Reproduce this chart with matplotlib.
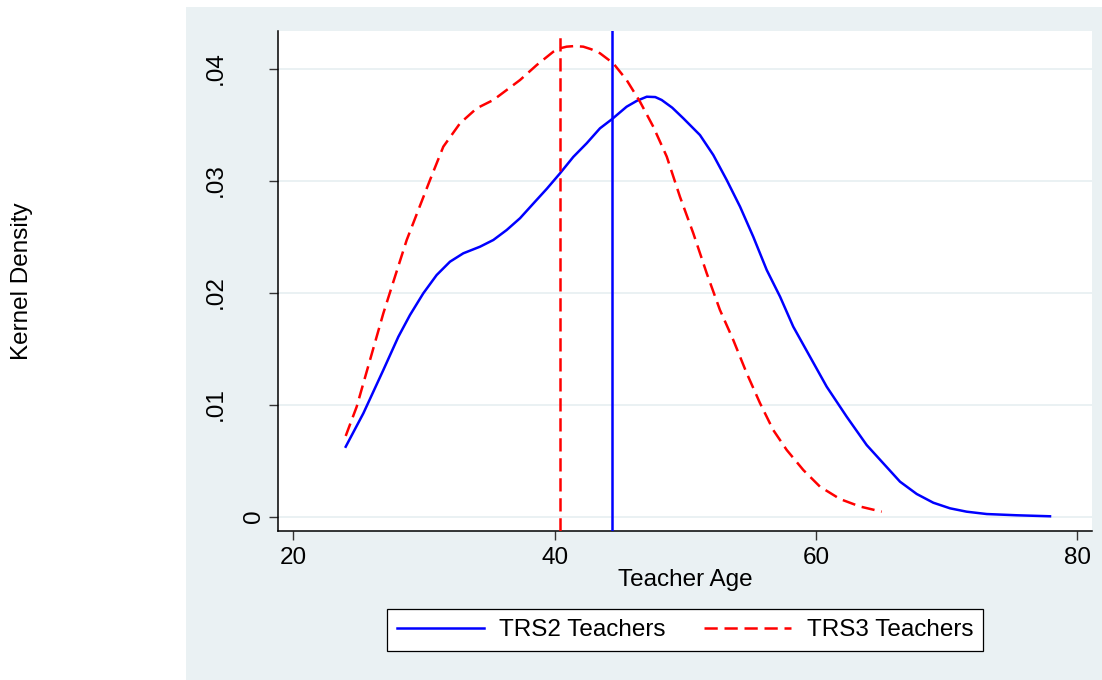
import matplotlib
matplotlib.use("Agg")
import matplotlib.pyplot as plt
from matplotlib.patches import Rectangle
from matplotlib.transforms import ScaledTranslation

# ---- data ----
trs2_age = [24.01, 25.36, 26.89, 28.04, 28.93, 29.95, 30.97, 31.99, 33.01, 34.29,
            35.31, 36.33, 37.35, 38.50, 39.40, 40.41, 41.43, 42.45, 43.47, 44.37,
            45.51, 46.30, 47.05, 47.70, 48.19, 49.00, 49.85, 51.12, 52.14, 53.17,
            54.19, 55.20, 56.23, 57.25, 58.26, 59.54, 60.82, 62.35, 63.88, 65.15,
            66.43, 67.71, 68.98, 70.26, 71.53, 73.07, 75.36, 77.91]
trs2_dens = [0.00623, 0.00921, 0.01308, 0.01605, 0.01799, 0.01993, 0.02156, 0.02275,
             0.02350, 0.02409, 0.02469, 0.02558, 0.02663, 0.02811, 0.02926, 0.03064,
             0.03211, 0.03332, 0.03466, 0.03546, 0.03659, 0.03712, 0.03748, 0.03745,
             0.03719, 0.03650, 0.03555, 0.03406, 0.03228, 0.03004, 0.02766, 0.02498,
             0.02201, 0.01963, 0.01695, 0.01427, 0.01159, 0.00891, 0.00638, 0.00475,
             0.00311, 0.00201, 0.00123, 0.00073, 0.00043, 0.00022, 0.00011, 0.00002]

trs3_age = [24.01, 24.85, 25.87, 26.89, 27.78, 28.68, 29.57, 30.46, 31.48, 32.76,
            34.04, 35.31, 36.33, 37.35, 38.63, 39.90, 40.40, 40.92, 41.50, 42.19,
            42.80, 43.47, 44.49, 45.51, 46.53, 47.55, 48.58, 49.59, 50.61, 51.64,
            52.65, 53.67, 54.70, 55.72, 56.73, 57.76, 59.03, 60.31, 61.84, 63.37,
            65.03]
trs3_dens = [0.00719, 0.00980, 0.01397, 0.01814, 0.02141, 0.02469, 0.02737, 0.03004,
             0.03302, 0.03511, 0.03645, 0.03719, 0.03808, 0.03897, 0.04031, 0.04150,
             0.04180, 0.04195, 0.04200, 0.04195, 0.04172, 0.04136, 0.04046, 0.03897,
             0.03704, 0.03480, 0.03213, 0.02855, 0.02529, 0.02171, 0.01844, 0.01576,
             0.01279, 0.01011, 0.00772, 0.00594, 0.00415, 0.00266, 0.00156, 0.00089,
             0.00043]

trs2_mean = 44.39
trs3_mean = 40.41

x_ticks = [20, 40, 60, 80]
y_ticks = [0, 0.01, 0.02, 0.03, 0.04]
y_ticklabels = ["0", ".01", ".02", ".03", ".04"]
series_labels = ["TRS2 Teachers", "TRS3 Teachers"]

# ---- figure ----
plt.rcParams['font.family'] = ['Liberation Sans', 'DejaVu Sans']
W, H = 1102, 680
FS = 17.5
fig = plt.figure(figsize=(W / 100, H / 100), dpi=100, facecolor='white')

panel_col = '#EAF1F3'
fig.patches.append(Rectangle((186 / W, 0), (W - 186) / W, (H - 7) / H,
                             transform=fig.transFigure, facecolor=panel_col,
                             edgecolor='none', zorder=-10))

ax = fig.add_axes([278 / W, 1 - 531 / H, (1092 - 278) / W, (531 - 31) / H])
ax.set_facecolor('white')

blue = '#0000FF'
red = '#FF0000'
lw = 1.8
dash = (5.3, 2.7)

l1, = ax.plot(trs2_age, trs2_dens, color=blue, lw=lw, label=series_labels[0], zorder=3)
l2, = ax.plot(trs3_age, trs3_dens, color=red, lw=lw, dashes=dash,
              label=series_labels[1], zorder=3)
ax.axvline(trs2_mean, color=blue, lw=lw, zorder=3)
ax.axvline(trs3_mean, color=red, lw=lw, dashes=dash, zorder=3)

x0 = 20 - (293.3 - 278) / 13.067
x1 = 20 + (1092 - 293.3) / 13.067
ax.set_xlim(x0, x1)
ax.set_ylim(-(531 - 516.5) / 11200, (516.5 - 31) / 11200)

ax.set_xticks(x_ticks)
ax.set_yticks(y_ticks)
ax.set_yticklabels(y_ticklabels, rotation=90, va='center', ha='right')

ax.grid(axis='y', color=panel_col, lw=1.4, zorder=0)
ax.grid(axis='x', visible=False)
ax.set_axisbelow(True)

for s in ['top', 'right']:
    ax.spines[s].set_visible(False)
for s in ['left', 'bottom']:
    ax.spines[s].set_color('black')
    ax.spines[s].set_linewidth(1.1)

ax.tick_params(axis='both', direction='out', length=6.5, width=1.0,
               color='#333333', labelsize=FS, labelcolor='black')
ax.tick_params(axis='x', pad=5)
ax.tick_params(axis='y', pad=3)

# Stata-like placement of rotated y tick labels
for lab, txt in zip(ax.get_yticklabels(), y_ticklabels):
    if txt != "0":
        lab.set_transform(lab.get_transform() +
                          ScaledTranslation(-38 / 100, 0, fig.dpi_scale_trans))

ax.set_xlabel("Teacher Age", fontsize=FS, labelpad=0)
ax.set_ylabel("Kernel Density", fontsize=FS)
ax.yaxis.set_label_coords((22 - 278) / (1092 - 278), 0.5)
ax.yaxis.label.set_va('center')

leg = fig.legend(handles=[l1, l2], labels=series_labels, ncol=2, loc='center',
                 bbox_to_anchor=(685 / W, 1 - 630 / H), fontsize=FS,
                 frameon=True, fancybox=False, shadow=False,
                 handlelength=3.58, handletextpad=0.62, columnspacing=1.6,
                 borderpad=0.4, borderaxespad=0)
leg.get_frame().set_edgecolor('black')
leg.get_frame().set_linewidth(0.9)
leg.get_frame().set_facecolor('white')
leg.get_frame().set_alpha(1)

fig.savefig("out.png", dpi=100, facecolor='white')
